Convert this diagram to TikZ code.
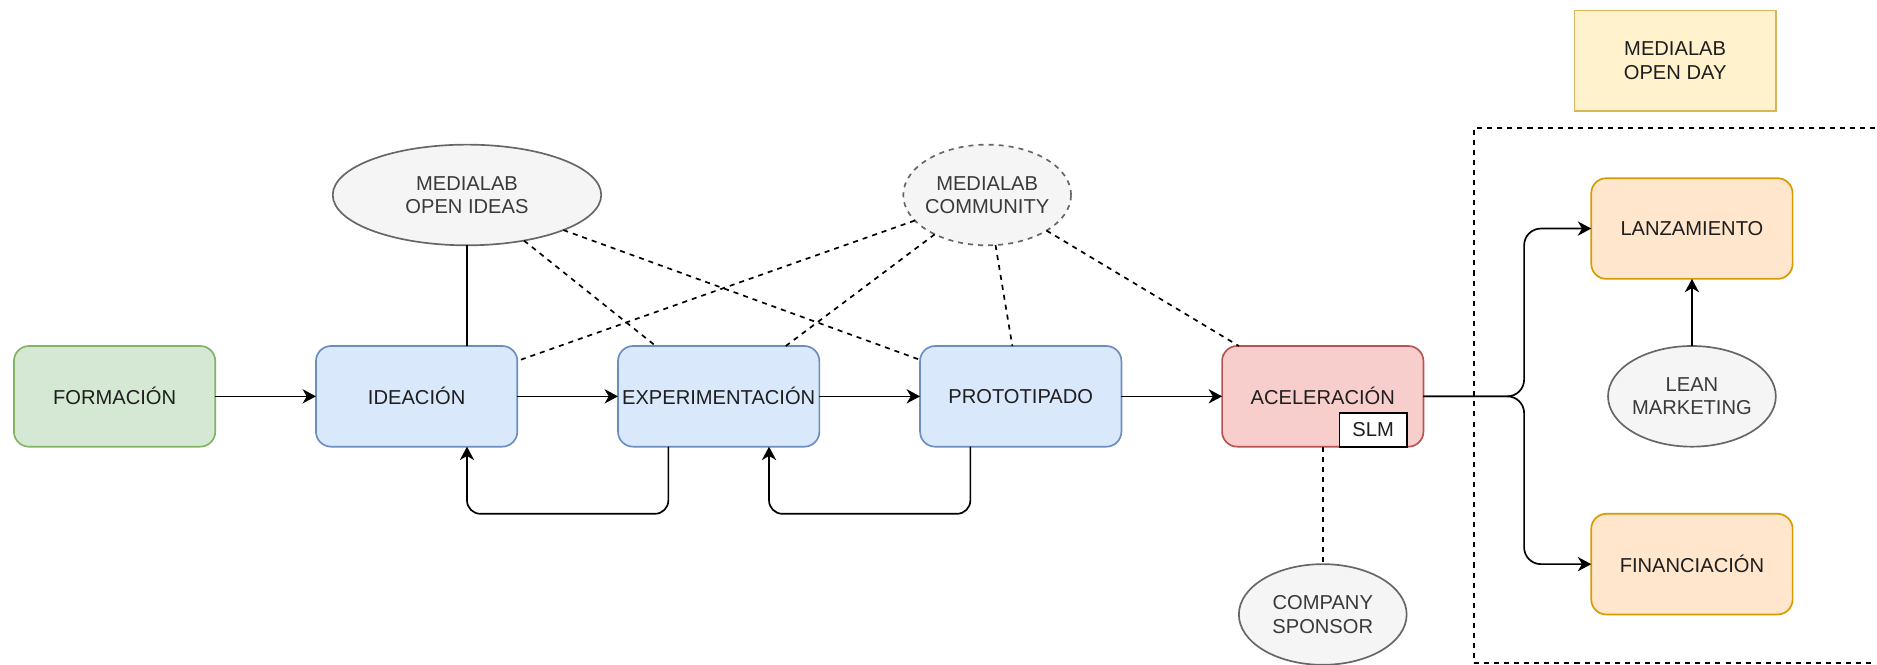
\documentclass[tikz,border=0pt]{standalone}
\usepackage{fontspec}
\setmainfont{Liberation Sans}
\usetikzlibrary{shapes.geometric,arrows.meta,calc}

\definecolor{grnfill}{HTML}{D5E8D4}\definecolor{grnline}{HTML}{82B366}
\definecolor{blufill}{HTML}{DAE8FC}\definecolor{bluline}{HTML}{6C8EBF}
\definecolor{redfill}{HTML}{F8CECC}\definecolor{redline}{HTML}{B85450}
\definecolor{orgfill}{HTML}{FFE6CC}\definecolor{orgline}{HTML}{D79B00}
\definecolor{ylwfill}{HTML}{FFF2CC}\definecolor{ylwline}{HTML}{D6B656}
\definecolor{gryfill}{HTML}{F5F5F5}\definecolor{gryline}{HTML}{666666}
\definecolor{grytext}{HTML}{3A3A3A}
\definecolor{boxtext}{HTML}{1E1E1E}

\begin{document}
\begin{tikzpicture}[x=1pt,y=-1pt,line width=1pt,
  base/.style={font=\fontsize{12}{14}\selectfont,inner sep=0pt,outer sep=0pt,align=center,text=boxtext},
  stage/.style={base,draw,rounded corners=9pt,minimum width=120pt,minimum height=60pt},
  stgreen/.style={stage,fill=grnfill,draw=grnline},
  stblue/.style={stage,fill=blufill,draw=bluline},
  stred/.style={stage,fill=redfill,draw=redline},
  storange/.style={stage,fill=orgfill,draw=orgline},
  event/.style={base,draw=ylwline,fill=ylwfill,minimum width=120pt,minimum height=60pt},
  actor/.style={base,ellipse,draw=gryline,fill=gryfill,text=grytext,inner xsep=-8pt,minimum height=60pt},
  tagbox/.style={base,draw=black,fill=white,minimum width=40pt,minimum height=20pt},
  dashy/.style={dash pattern=on 3pt off 3pt},
  arr/.style={-{Stealth[length=8pt,width=8.5pt,inset=2.5pt]}},
  link/.style={dashy,black},
  loopline/.style={rounded corners=8pt}
]
\useasboundingbox (-8.3,-206.2) rectangle (1110.3,190.1);

% dashed group around the launch stage
\node[base,draw,dashy,minimum width=260pt,minimum height=319pt] (group) at (1000,29.5) {};

% main stages
\node[stgreen]  (form)  at (60,30)  {FORMACIÓN};
\node[stblue]   (idea)  at (240,30) {IDEACIÓN};
\node[stblue]   (exper) at (420,30) {EXPERIMENTACIÓN};
\node[stblue]   (proto) at (600,30) {PROTOTIPADO};
\node[stred]    (acel)  at (780,30) {ACELERACIÓN};
\node[tagbox]   (slm)   at (810,50) {SLM};
\node[storange] (lanz)  at (1000,-70) {LANZAMIENTO};
\node[storange] (fin)   at (1000,130) {FINANCIACIÓN};

% programmes and actors
\node[actor,minimum width=160pt] (openideas) at (270,-90) {MEDIALAB\\OPEN IDEAS};
\node[actor,dashy,minimum width=100pt] (community) at (580,-90) {MEDIALAB\\COMMUNITY};
\node[actor,minimum width=100pt] (lean) at (1000,30) {LEAN\\MARKETING};
\node[actor,minimum width=100pt] (sponsor) at (780,160) {COMPANY\\SPONSOR};
\node[event] (openday) at (990,-170) {MEDIALAB\\OPEN DAY};

% main flow
\draw[arr] (form) -- (idea);
\draw[arr] (idea) -- (exper);
\draw[arr] (exper) -- (proto);
\draw[arr] (proto) -- (acel);

% feedback loops
\draw[arr,loopline] ([xshift=-30pt]exper.south) -- ++(0,40) -| ([xshift=30pt]idea.south);
\draw[arr,loopline] ([xshift=-30pt]proto.south) -- ++(0,40) -| ([xshift=30pt]exper.south);

% split after acceleration
\draw[arr,rounded corners=10pt] (acel.east) -- ++(60,0) |- (lanz.west);
\draw[arr,rounded corners=10pt] (acel.east) -- ++(60,0) |- (fin.west);
\draw[arr] (lean) -- (lanz);

% links to the programmes
\draw (openideas.south) -- (openideas.south |- idea.north);
\draw[link] (openideas) -- (exper);
\draw[link] (openideas) -- (proto);
\draw[link] (community) -- (idea);
\draw[link] (community) -- (exper);
\draw[link] (community) -- (proto);
\draw[link] (community) -- (acel);
\draw[link] (acel.south) -- (sponsor.north);
\end{tikzpicture}
\end{document}
